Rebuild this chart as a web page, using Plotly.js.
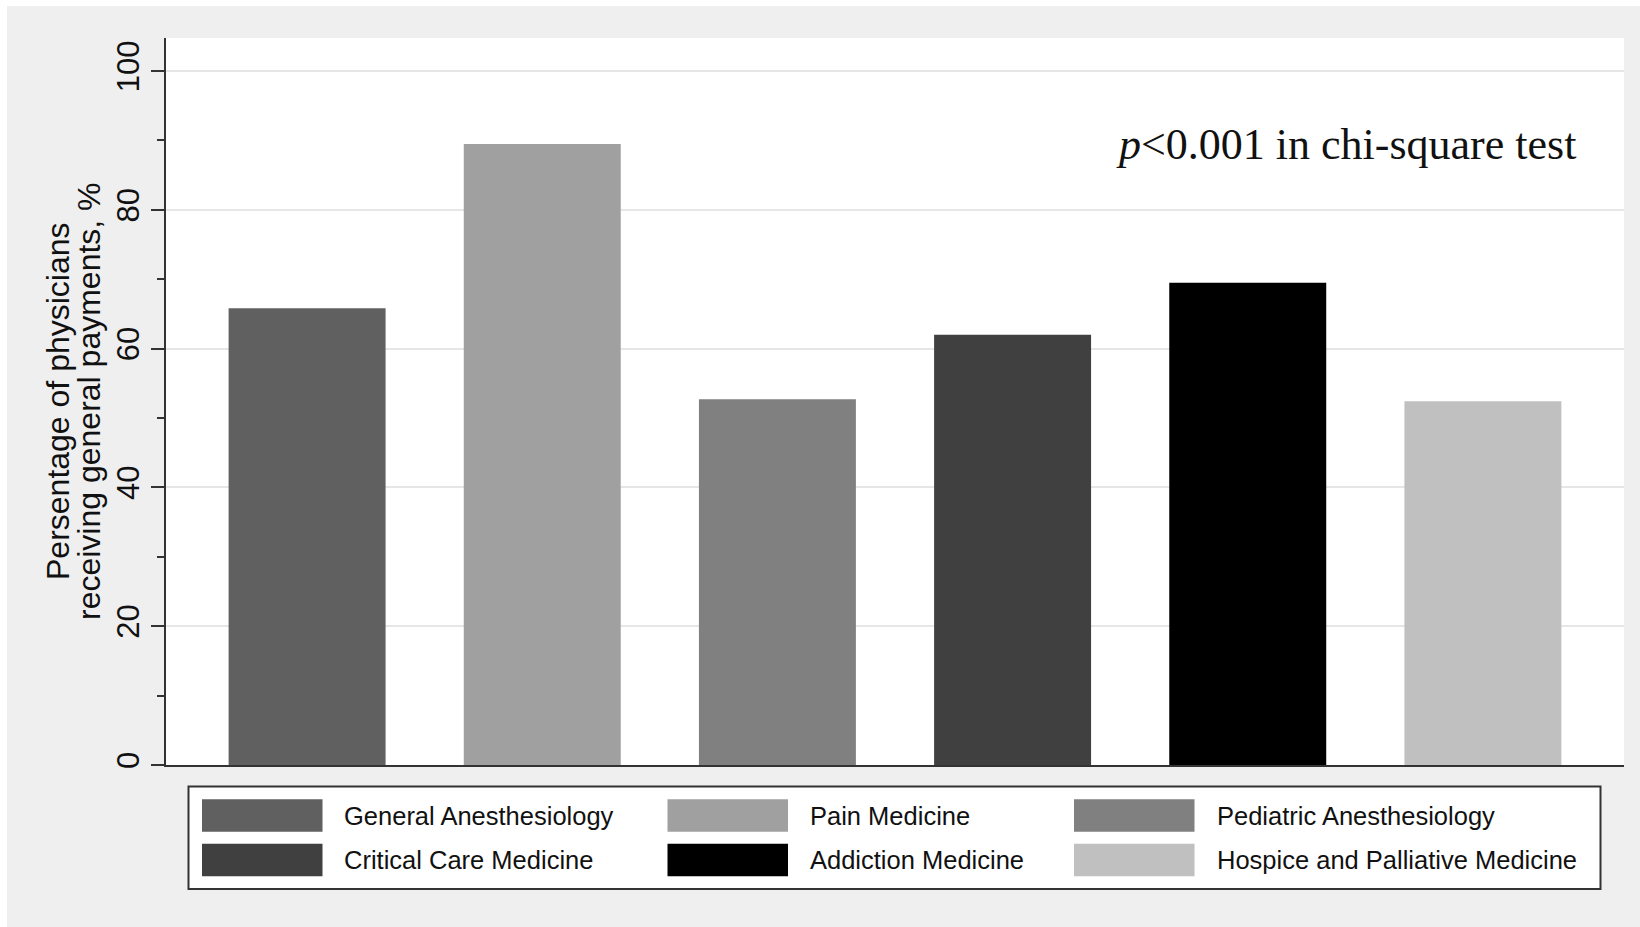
<!DOCTYPE html>
<html>
<head>
<meta charset="utf-8">
<script src="https://cdn.plot.ly/plotly-3.0.1.min.js"></script>
<style>html,body{margin:0;padding:0;background:#fff;}#chart{width:1640px;height:927px;}</style>
</head>
<body>
<div id="chart"></div>
<script>
// ---- data ----
const categories = ["General Anesthesiology", "Pain Medicine", "Pediatric Anesthesiology",
                    "Critical Care Medicine", "Addiction Medicine", "Hospice and Palliative Medicine"];
const values = [65.8, 89.5, 52.7, 62.0, 69.5, 52.4];
const barColors = ["#606060", "#a0a0a0", "#808080", "#404040", "#000000", "#c0c0c0"];
const yTickVals = [0, 20, 40, 60, 80, 100];
const yTitleLines = ["Persentage of physicians", "receiving general payments, %"];
const noteText = "<i>p</i>&lt;0.001 in chi-square test";

// ---- layout geometry (pixels) ----
const W = 1640, H = 927;
const M = {l: 166, r: 16, t: 38, b: 162};
const PW = W - M.l - M.r, PH = H - M.t - M.b;
const px2x = p => (p - M.l) / PW;
const py2y = p => (H - M.b - p) / PH;

const SANS = "Liberation Sans, Arial, Helvetica, sans-serif";
const SERIF = "Liberation Serif, Times New Roman, serif";

const traces = categories.map((c, i) => ({
  type: "bar",
  x: [c],
  y: [values[i]],
  width: [0.6675],
  name: c,
  marker: {color: barColors[i], line: {width: 0}},
  hoverinfo: "x+y"
}));

const shapes = [
  // white outer margins (left / top)
  {type: "rect", xref: "paper", yref: "paper", x0: px2x(0), x1: px2x(7), y0: py2y(H), y1: py2y(0),
   fillcolor: "#ffffff", line: {width: 0}, layer: "above"},
  {type: "rect", xref: "paper", yref: "paper", x0: px2x(0), x1: px2x(W), y0: py2y(6), y1: py2y(0),
   fillcolor: "#ffffff", line: {width: 0}, layer: "above"},
  // legend box
  {type: "rect", xref: "paper", yref: "paper", x0: px2x(188.5), x1: px2x(1600.5), y0: py2y(889), y1: py2y(786.5),
   fillcolor: "#ffffff", line: {color: "#333333", width: 2}, layer: "above"}
];
const annotations = [];

const colSwatchX = [202, 667.5, 1074];
const colTextX = [342, 808, 1214.5];
const rowCenterY = [815.5, 860];
categories.forEach((c, i) => {
  const col = i % 3, row = Math.floor(i / 3);
  shapes.push({type: "rect", xref: "paper", yref: "paper",
    x0: px2x(colSwatchX[col]), x1: px2x(colSwatchX[col] + 120.5),
    y0: py2y(rowCenterY[row] + 16.2), y1: py2y(rowCenterY[row] - 16.2),
    fillcolor: barColors[i], line: {width: 0}, layer: "above"});
  annotations.push({xref: "paper", yref: "paper", x: px2x(colTextX[col]), y: py2y(rowCenterY[row]),
    xanchor: "left", yanchor: "middle", showarrow: false, text: c,
    font: {family: SANS, size: 25.5, color: "#111111"}});
});

// y-axis title (two lines)
const titleCenters = [57.5, 88.5];
yTitleLines.forEach((t, k) => {
  annotations.push({xref: "paper", yref: "paper", x: 0, y: 0.5, xshift: titleCenters[k] - M.l,
    xanchor: "center", yanchor: "middle", textangle: -90, showarrow: false, text: t,
    font: {family: SANS, size: 32, color: "#111111"}});
});

// p-value note
annotations.push({xref: "paper", yref: "paper", x: px2x(1578), y: py2y(144.5),
  xanchor: "right", yanchor: "middle", showarrow: false, text: noteText,
  font: {family: SERIF, size: 44, color: "#111111"}});

const layout = {
  width: W, height: H,
  margin: M,
  paper_bgcolor: "#efefef",
  plot_bgcolor: "#ffffff",
  barmode: "overlay",
  showlegend: false,
  xaxis: {
    type: "category",
    range: [-0.6, 5.6],
    showticklabels: false, ticks: "", showgrid: false, zeroline: false,
    showline: true, linecolor: "#333333", linewidth: 2,
    fixedrange: true
  },
  yaxis: {
    range: [0, 104.76],
    tickvals: yTickVals,
    ticktext: yTickVals.map(String),
    tickangle: -90,
    ticks: "outside", ticklen: 13, tickwidth: 2, tickcolor: "#333333",
    tickfont: {family: SANS, size: 31, color: "#111111"},
    showgrid: true, gridcolor: "#e6e6e6", gridwidth: 2,
    zeroline: false,
    showline: true, linecolor: "#333333", linewidth: 2,
    minor: {dtick: 10, tick0: 0, ticks: "outside", ticklen: 7, tickwidth: 2, tickcolor: "#333333", showgrid: false},
    fixedrange: true
  },
  shapes: shapes,
  annotations: annotations
};

Plotly.newPlot("chart", traces, layout, {displayModeBar: false, staticPlot: true});
</script>
</body>
</html>
